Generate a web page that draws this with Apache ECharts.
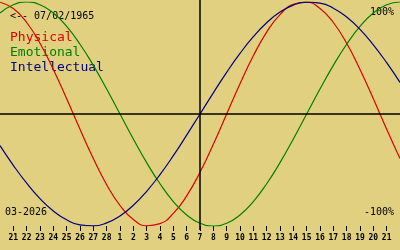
<!DOCTYPE html>
<html><head><meta charset="utf-8">
<script src="https://cdn.jsdelivr.net/npm/echarts@6/dist/echarts.min.js"></script>
<style>html,body{margin:0;padding:0;background:#e0d080;}#c{width:400px;height:250px;}</style>
</head><body><div id="c"></div>
<script>
// Days from Feb 20 to Mar 22 (2026); edge days carry no label
const dayLabels = ['', '21','22','23','24','25','26','27','28','1','2','3','4','5','6','7','8','9','10','11','12','13','14','15','16','17','18','19','20','21', ''];
const physical = [0.998,0.942,0.817,0.631,0.398,0.136,-0.136,-0.398,-0.631,-0.817,-0.942,-0.998,-0.979,-0.888,-0.731,-0.520,-0.270,
  0,0.270,0.520,0.731,0.888,0.979,0.998,0.942,0.817,0.631,0.398,0.136,-0.136,-0.398];
const emotional = [0.901,0.975,1,0.975,0.901,0.782,0.623,0.434,0.223,0,-0.223,-0.434,-0.623,-0.782,-0.901,-0.975,-1,-0.975,-0.901,-0.782,-0.623,-0.434,-0.223,
  0,0.223,0.434,0.623,0.782,0.901,0.975,1];
const intellectual = [-0.282,-0.458,-0.618,-0.756,-0.866,-0.945,-0.990,-0.999,-0.972,-0.910,-0.815,-0.690,-0.541,-0.372,-0.189,
  0,0.189,0.372,0.541,0.690,0.815,0.910,0.972,0.999,0.990,0.945,0.866,0.756,0.618,0.458,0.282];
const todayIndex = 15; // Mar 7
const birthText = '<-- 07/02/1965';
const monthText = '03-2026';
const seriesNames = ['Physical','Emotional','Intellectual'];
const colors = ['#e00000','#008000','#000080'];

const chart = echarts.init(document.getElementById('c'), null, {renderer:'canvas'});
const mono = 'DejaVu Sans Mono';
chart.setOption({
  backgroundColor: '#e0d080',
  animation: false,
  grid: {left: 0, right: 0, top: 2, bottom: 24, containLabel: false, outerBoundsMode: 'none'},
  xAxis: {
    type: 'category', data: dayLabels, boundaryGap: false,
    axisLine: {show: false, onZero: false},
    axisTick: {show: true, length: 5, interval: (i) => i > 0 && i < dayLabels.length - 1, lineStyle: {color: '#000', width: 1}},
    axisLabel: {interval: 0, fontFamily: mono, fontSize: 8, fontWeight: 'bold', color: '#000', margin: 8},
    splitLine: {show: false}
  },
  yAxis: {type: 'value', min: -1, max: 1, show: false},
  series: [
    {name: seriesNames[0], type: 'line', data: physical, smooth: true, showSymbol: false, lineStyle: {color: colors[0], width: 1.2},
     markLine: {silent: true, symbol: 'none', label: {show: false}, lineStyle: {color: '#000', width: 1.5, type: 'solid'},
       data: [[{x: 0, yAxis: 0}, {x: 400, yAxis: 0}], [{xAxis: todayIndex, y: 0}, {xAxis: todayIndex, y: 230}]]}},
    {name: seriesNames[1], type: 'line', data: emotional, smooth: true, showSymbol: false, lineStyle: {color: colors[1], width: 1.2}},
    {name: seriesNames[2], type: 'line', data: intellectual, smooth: true, showSymbol: false, lineStyle: {color: colors[2], width: 1.2}}
  ],
  graphic: [
    {type: 'text', left: 10, top: 11, style: {text: birthText, font: '10px "DejaVu Sans Mono"', fill: '#000'}},
    {type: 'text', left: 10, top: 31, style: {text: seriesNames[0], font: '13px "DejaVu Sans Mono"', fill: colors[0]}},
    {type: 'text', left: 10, top: 46, style: {text: seriesNames[1], font: '13px "DejaVu Sans Mono"', fill: colors[1]}},
    {type: 'text', left: 10, top: 61, style: {text: seriesNames[2], font: '13px "DejaVu Sans Mono"', fill: colors[2]}},
    {type: 'text', left: 5, top: 207, style: {text: monthText, font: '10px "DejaVu Sans Mono"', fill: '#000'}},
    {type: 'text', right: 6, top: 7, style: {text: '100%', font: '10px "DejaVu Sans Mono"', fill: '#000'}},
    {type: 'text', right: 6, top: 207, style: {text: '-100%', font: '10px "DejaVu Sans Mono"', fill: '#000'}}
  ]
});
</script></body></html>
